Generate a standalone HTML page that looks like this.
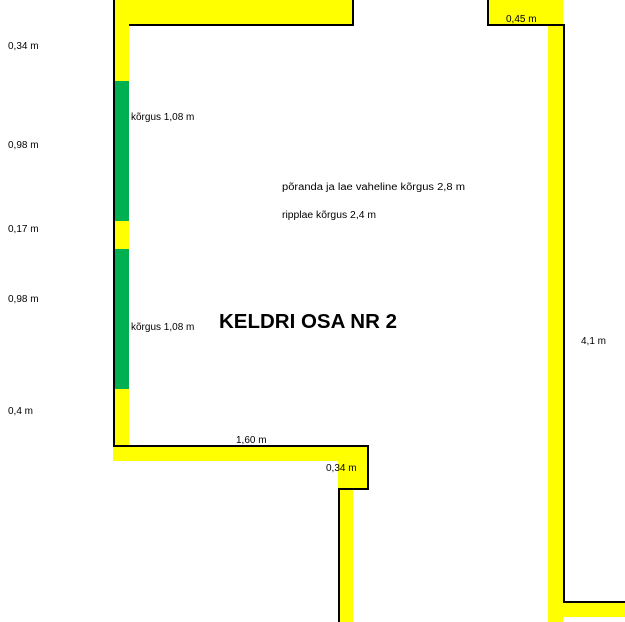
<!DOCTYPE html>
<html><head><meta charset="utf-8"><style>
html,body{margin:0;padding:0;background:#fff;width:625px;height:622px;overflow:hidden;position:relative}
div{position:absolute}
.y{background:#ffff00}.g{background:#00b050}.k{background:#000}
svg{position:absolute;left:0;top:0}
text{font-family:"Liberation Sans",sans-serif;font-size:10px;fill:#000}
</style></head><body>
<div class="y" style="left:113px;top:0;width:240px;height:25px"></div>
<div class="y" style="left:113px;top:0;width:16px;height:446px"></div>
<div class="g" style="left:113px;top:81px;width:16px;height:140px"></div>
<div class="g" style="left:113px;top:249px;width:16px;height:140px"></div>
<div class="k" style="left:113px;top:0;width:2px;height:447px"></div>
<div class="k" style="left:129px;top:24px;width:225px;height:2px"></div>
<div class="k" style="left:352px;top:0;width:2px;height:26px"></div>
<div class="y" style="left:113px;top:446px;width:255px;height:15px"></div>
<div class="y" style="left:338px;top:446px;width:30px;height:43px"></div>
<div class="y" style="left:340px;top:489px;width:13px;height:133px"></div>
<div class="k" style="left:113px;top:445px;width:256px;height:2px"></div>
<div class="k" style="left:367px;top:445px;width:2px;height:45px"></div>
<div class="k" style="left:338px;top:488px;width:31px;height:2px"></div>
<div class="k" style="left:338px;top:488px;width:2px;height:134px"></div>
<div class="y" style="left:487px;top:0;width:76px;height:25px"></div>
<div class="y" style="left:548px;top:0;width:15px;height:622px"></div>
<div class="y" style="left:548px;top:602px;width:77px;height:15px"></div>
<div class="k" style="left:487px;top:0;width:2px;height:26px"></div>
<div class="k" style="left:487px;top:24px;width:78px;height:2px"></div>
<div class="k" style="left:563px;top:24px;width:2px;height:579px"></div>
<div class="k" style="left:563px;top:601px;width:62px;height:2px"></div>
<svg width="625" height="622">
<text x="8" y="49">0,34 m</text>
<text x="8" y="148">0,98 m</text>
<text x="8" y="232">0,17 m</text>
<text x="8" y="302">0,98 m</text>
<text x="8" y="414">0,4 m</text>
<text x="131" y="120">kõrgus 1,08 m</text>
<text x="131" y="330">kõrgus 1,08 m</text>
<text x="282" y="190" textLength="183" lengthAdjust="spacingAndGlyphs">põranda ja lae vaheline kõrgus 2,8 m</text>
<text x="282" y="218" textLength="94" lengthAdjust="spacingAndGlyphs">ripplae kõrgus 2,4 m</text>
<text x="219" y="328" style="font-size:20px;font-weight:bold" textLength="178" lengthAdjust="spacingAndGlyphs">KELDRI OSA NR 2</text>
<text x="236" y="443">1,60 m</text>
<text x="326" y="471">0,34 m</text>
<text x="506" y="22">0,45 m</text>
<text x="581" y="344">4,1 m</text>
</svg>
</body></html>
